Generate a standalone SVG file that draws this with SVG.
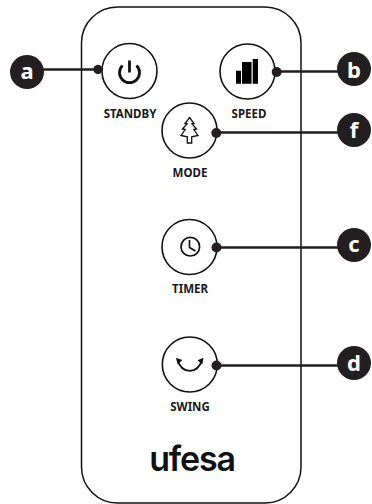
<svg xmlns="http://www.w3.org/2000/svg" width="372" height="504" viewBox="0 0 372 504">
<style>
.body{fill:#fff;stroke:#111;stroke-width:1.5}
.btn{fill:#fff;stroke:#111;stroke-width:1.6}
.lbl{font-family:"Noto Sans","Open Sans",sans-serif;font-weight:700;font-size:11.5px;fill:#1a1718;text-anchor:middle}
.badge{fill:#231f20}
.bt{font-family:"Noto Sans","Open Sans",sans-serif;font-weight:700;font-size:22px;fill:#fff;text-anchor:middle}
.wire{stroke:#231f20;stroke-width:2.4;fill:none}
.dot{fill:#231f20}
.ic{fill:none;stroke:#111;stroke-width:1.7}
</style>
<rect id="remote" class="body" x="81.500" y="7" width="219.500" height="496" rx="36" ry="36"/>
<g id="standby"><circle class="btn" cx="129.500" cy="71" r="27.500"/><path d="M122.500 65.500A10 10 0 1 0 136.500 65.500M129.500 60.500V72.500" fill="none" stroke="#111" stroke-width="2.800"/><text class="lbl" x="130" y="117.500">STANDBY</text></g>
<g id="speed"><circle class="btn" cx="247.500" cy="71.500" r="27.500"/><path d="M236 70.700h5v13h-5zM242 62h9.500v21.700h-9.500zM252.700 59h5.300v24.700h-5.300z" fill="#000"/><text class="lbl" x="249" y="117.500">SPEED</text></g>
<g id="mode"><circle class="btn" cx="189.500" cy="130.500" r="27.500"/><path class="ic" style="stroke-width:1.300" d="M189.500 117.500L194 123.500L192 123.800L196.500 129L193.800 129.500L198 135.500L191.700 136.800V143H187.300V136.800L181 135.500L185.200 129.500L182.500 129L187 123.800L185 123.500Z"/><text class="lbl" x="190" y="177">MODE</text></g>
<g id="timer"><circle class="btn" cx="189.500" cy="247" r="27.500"/><circle class="ic" cx="190.300" cy="246.700" r="9.300"/><path class="ic" d="M189.500 240V247.500L195.500 251"/><text class="lbl" x="190" y="293">TIMER</text></g>
<g id="swing"><circle class="btn" cx="189.800" cy="364.500" r="27.500"/><path class="ic" style="stroke-width:1.900" d="M177.500 360C182 374.500 197.500 374.500 202 360"/><path d="M176 357.800L182.300 360L177.700 364.500ZM203.500 357.800L197.500 360.300L202.300 364.500Z" fill="#111"/><text class="lbl" x="190" y="411">SWING</text></g>
<g id="connectors">
<path class="wire" d="M27 69.500H98M276.500 71.500H354M216 132.500H354M216.500 247.500H354M216.500 365.500H354"/>
<circle class="dot" cx="98" cy="69.500" r="4.700"/><circle class="dot" cx="276.700" cy="72" r="5"/><circle class="dot" cx="216.300" cy="133" r="5"/><circle class="dot" cx="216.500" cy="247.500" r="5"/><circle class="dot" cx="216.500" cy="365.500" r="5"/>
</g>
<g id="a"><circle class="badge" cx="27" cy="72" r="17"/><text class="bt" x="27" y="79.300">a</text></g>
<g id="b"><circle class="badge" cx="354" cy="69" r="17"/><text class="bt" x="354" y="77.500">b</text></g>
<g id="f"><circle class="badge" cx="354" cy="130" r="17"/><text class="bt" x="354" y="138">f</text></g>
<g id="c"><circle class="badge" cx="354" cy="245" r="17"/><text class="bt" x="354" y="251.800">c</text></g>
<g id="d"><circle class="badge" cx="354" cy="363" r="17"/><text class="bt" x="354" y="371">d</text></g>
<text id="logo" x="192" y="470.500" font-family="Inter,sans-serif" font-weight="600" font-size="34" letter-spacing="-1.200" text-anchor="middle" fill="#111">ufesa</text>
</svg>
